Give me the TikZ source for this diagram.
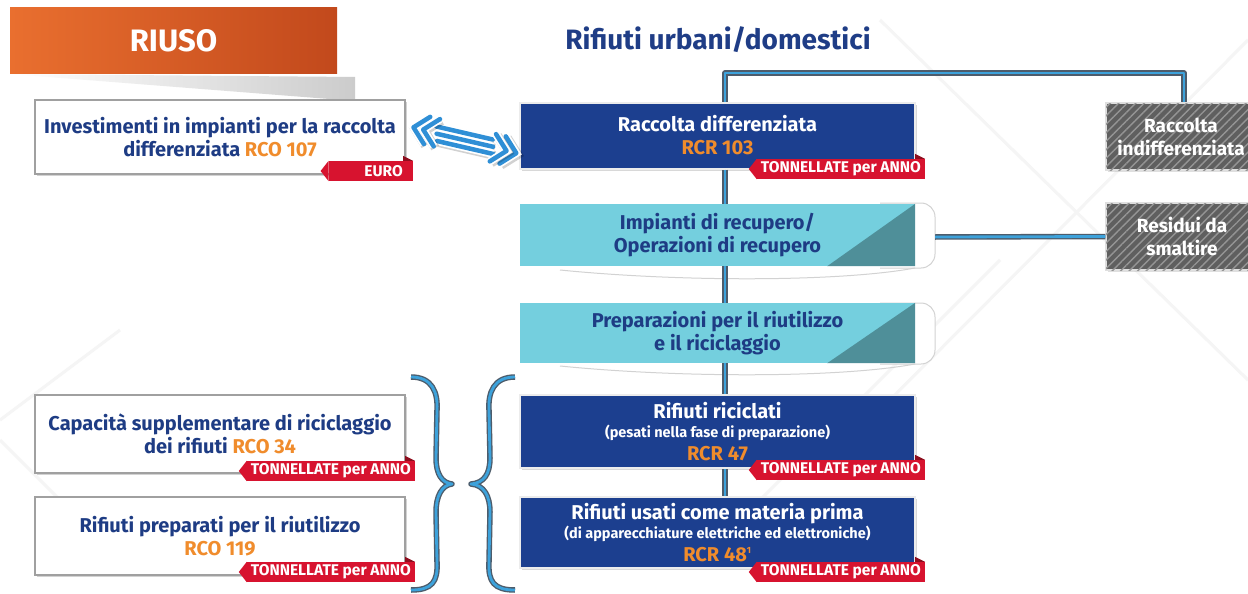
\documentclass[tikz,border=0pt]{standalone}
\usepackage{fontspec}
\setmainfont{Fira Sans}
\usetikzlibrary{shadows,patterns.meta,calc,arrows.meta}
\definecolor{dblue}{HTML}{1C3F8F}
\definecolor{txtblue}{HTML}{1E3C84}
\definecolor{orng}{HTML}{F08C2C}
\definecolor{tagred}{HTML}{D7132F}
\definecolor{tagdark}{HTML}{8E0E1E}
\definecolor{cyanb}{HTML}{74CFDE}
\definecolor{trianglec}{HTML}{4F8F99}
\definecolor{gfill}{HTML}{5F5F5F}
\definecolor{gstripe}{HTML}{959595}
\definecolor{connblue}{HTML}{3DA2DB}
\definecolor{connedge}{HTML}{4D5C6B}
\definecolor{boxgray}{HTML}{A0A0A0}
\definecolor{bannerL}{HTML}{E96F2F}
\definecolor{bannerR}{HTML}{C2491C}
\definecolor{titlec}{HTML}{1F3D86}
\definecolor{ablue}{HTML}{2F8FD6}
\newcommand{\rtag}[4]{%
  \node[tagst, anchor=east] (#1) at (#2,#3) {#4};
  \fill[tagred] (#1.north west) -- ($(#1.west)+(-8,0)$) -- (#1.south west) -- cycle;
  \fill[tagdark] ($(#1.north east)+(-10,0)$) -- ($(#1.north east)+(-10,-5)$) -- (#1.north east) -- cycle;
}
\begin{document}
\begin{tikzpicture}[x=1pt,y=-1pt,
  big/.style={font=\fontsize{20}{23}\selectfont\bfseries},
  wbox/.style={big, draw=boxgray, line width=1.5pt, fill=white, text=txtblue, align=center, inner sep=0pt,
    minimum width=370, minimum height=74, drop shadow={opacity=0.35, shadow xshift=2pt, shadow yshift=-2pt}},
  dbox/.style={big, draw=white!85!gray, line width=2pt, fill=dblue, text=white, align=center, inner sep=0pt,
    minimum width=395, minimum height=66, drop shadow={opacity=0.3, shadow xshift=2pt, shadow yshift=-2pt}},
  cbox/.style={big, fill=cyanb, text=txtblue, align=center, inner sep=0pt, minimum width=395, minimum height=62},
  gbox/.style={font=\fontsize{19}{23}\selectfont\bfseries, fill=gfill, draw=white!75!gray, line width=1.5pt, text=white, align=center, inner sep=0pt,
    minimum width=156, minimum height=67,
    postaction={pattern={Lines[angle=45,distance=6pt,line width=1.4pt]}, pattern color=gstripe},
    drop shadow={opacity=0.25, shadow xshift=2pt, shadow yshift=-2pt}},
  tagst/.style={fill=tagred, text=white, font=\fontsize{15.5}{16}\selectfont\bfseries, minimum height=20,
    inner xsep=4pt, inner ysep=0pt},
  conn/.style={draw=connedge, line width=5.5pt, line join=round, postaction={draw=connblue, line width=2.8pt}},
  arrstroke/.style={line cap=round, line join=round,
    preaction={draw=black, opacity=0.18, line width=9pt, transform canvas={xshift=1.5pt, yshift=-1.5pt}},
    preaction={draw=white, line width=8pt}, draw=ablue, line width=4.5pt},
  faint/.style={draw=gray!8, line width=3pt},
  tabline/.style={draw=gray!35, line width=1pt}
]
\useasboundingbox (0,0) rectangle (1248,594);
\fill[white] (0,0) rectangle (1248,594);
% faint background lines
\draw[faint] (880,20) -- (1248,380);
\draw[faint] (1248,40) -- (870,420);
\draw[faint] (0,420) -- (120,330);
\draw[faint] (0,440) -- (120,560);
\draw[faint] (700,560) -- (1000,260);
% banner
\shade[left color=white, right color=gray!40] (10,74) -- (355,77) -- (355,101) -- cycle;
\node[left color=bannerL, right color=bannerR, minimum width=327, minimum height=66, inner sep=0pt,
  text=white, font=\fontsize{31}{33}\selectfont\bfseries] (riuso) at (173.5,41) {RIUSO};
\node[text=titlec, font=\fontsize{28}{30}\selectfont\bfseries] (title) at (718,40) {Rifiuti urbani/domestici};
% tabs behind cyan boxes
\draw[tabline, fill=white, rounded corners=14pt] (880,203) -- (935,203) -- (935,268) -- (880,268);
\draw[tabline] (560,270) .. controls (680,282) and (840,282) .. (915,268);
\draw[tabline, fill=white, rounded corners=14pt] (880,303) -- (935,303) -- (935,364) -- (880,364);
\draw[tabline] (560,366) .. controls (680,378) and (840,378) .. (915,364);
\coordinate (imptab) at (935,237);
% boxes
\node[wbox] (inv) at (220,137) {Investimenti in impianti per la raccolta\\differenziata \textcolor{orng}{RCO 107}};
\node[dbox] (rd) at (717.5,135.5) {Raccolta differenziata\\\textcolor{orng}{RCR 103}};
\node[gbox] (ri) at (1184,136.5) {Raccolta\hspace*{6pt}\\indifferenziata\hspace*{6pt}};
\node[cbox] (imp) at (717.5,235) {Impianti di recupero/\\Operazioni di recupero};
\fill[trianglec] ($(imp.south east)+(-88,0)$) -- (imp.north east) -- (imp.south east) -- cycle;
\node[gbox] (res) at (1184,236.5) {Residui da\hspace*{4pt}\\smaltire\hspace*{4pt}};
\node[cbox, minimum height=60] (prep) at (717.5,333) {Preparazioni per il riutilizzo\\e il riciclaggio};
\fill[trianglec] ($(prep.south east)+(-88,0)$) -- (prep.north east) -- (prep.south east) -- cycle;
\node[wbox, minimum height=78] (cap) at (220,434) {Capacità supplementare di riciclaggio\\dei rifiuti \textcolor{orng}{RCO 34}};
\node[wbox, minimum height=78] (prepr) at (220,536) {Rifiuti preparati per il riutilizzo\\\textcolor{orng}{RCO 119}};
\node[dbox, minimum height=73] (ric) at (717.5,431.5) {Rifiuti riciclati\\[-4pt]{\fontsize{14.5}{16}\selectfont (pesati nella fase di preparazione)}\\[0pt]\textcolor{orng}{RCR 47}};
\node[dbox, minimum height=71] (usati) at (717.5,532.5) {Rifiuti usati come materia prima\\[-4pt]{\fontsize{14.5}{16}\selectfont (di apparecchiature elettriche ed elettroniche)}\\[0pt]\textcolor{orng}{RCR 48\textsuperscript{\fontsize{9}{9}\selectfont 1}}};
% tags
\rtag{teuro}{413}{171}{\makebox[76pt]{\hfill EURO\hspace{6pt}}}
\rtag{t103}{925}{169}{TONNELLATE per ANNO}
\rtag{t34}{415}{471}{TONNELLATE per ANNO}
\rtag{t119}{415}{572}{TONNELLATE per ANNO}
\rtag{t47}{925}{470}{TONNELLATE per ANNO}
\rtag{t48}{925}{572}{TONNELLATE per ANNO}
% connectors
\coordinate (top) at (725,73);
\draw[conn] (top |- rd.north) -- (top) -| (ri.north);
\draw[conn] (top |- rd.south) -- (top |- imp.north);
\draw[conn] (top |- imp.south) -- (top |- prep.north);
\draw[conn] (top |- prep.south) -- (top |- ric.north);
\draw[conn] (top |- ric.south) -- (top |- usati.north);
\draw[conn] (imptab) -- (res.west);
% braces
\draw[conn] (411,377) .. controls (432,377) and (438,392) .. (437,410) -- (436,458)
  .. controls (436,474) and (442,483) .. (452,484)
  .. controls (442,485) and (436,496) .. (436,512) -- (437,562)
  .. controls (438,582) and (432,590) .. (411,590);
\draw[conn] (515,377) .. controls (494,377) and (488,392) .. (489,410) -- (490,458)
  .. controls (490,474) and (484,483) .. (471,484)
  .. controls (484,485) and (490,496) .. (490,512) -- (489,562)
  .. controls (488,582) and (494,590) .. (515,590);
% double arrow between investment box and raccolta differenziata
\coordinate (aL) at ($(inv.east)+(11,-8)$);
\coordinate (aR) at ($(rd.west)+(-6,16)$);
\begin{scope}[shift={($(aL)!0.5!(aR)$)}, rotate=-13]
  \draw[arrstroke] (-31,-7) -- (27,-7);
  \draw[arrstroke] (-29,0) -- (29,0);
  \draw[arrstroke] (-27,7) -- (31,7);
  \draw[arrstroke] (-39,-15) -- (-53,-1) -- (-39,13);
  \draw[arrstroke] (-29,-15) -- (-43,-1) -- (-29,13);
  \draw[arrstroke] (39,-13) -- (53,1) -- (39,15);
  \draw[arrstroke] (29,-13) -- (43,1) -- (29,15);
\end{scope}
\end{tikzpicture}
\end{document}
